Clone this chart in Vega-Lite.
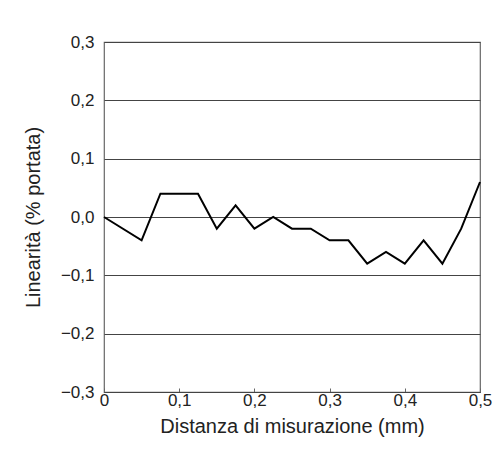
{
  "$schema": "https://vega.github.io/schema/vega-lite/v6.json",
  "autosize": {"type": "none"},
  "padding": {"left": 104, "top": 42, "right": 23, "bottom": 62},
  "width": 376,
  "height": 350,
  "background": "white",
  "config": {
    "font": "Liberation Sans",
    "view": {"stroke": "#666", "strokeWidth": 1.2}
  },
  "data": {
    "values": [
      {"d": 0, "lin": 0},
      {"d": 0.05, "lin": -0.04},
      {"d": 0.075, "lin": 0.04},
      {"d": 0.1, "lin": 0.04},
      {"d": 0.125, "lin": 0.04},
      {"d": 0.15, "lin": -0.02},
      {"d": 0.175, "lin": 0.02},
      {"d": 0.2, "lin": -0.02},
      {"d": 0.225, "lin": 0},
      {"d": 0.25, "lin": -0.02},
      {"d": 0.275, "lin": -0.02},
      {"d": 0.3, "lin": -0.04},
      {"d": 0.325, "lin": -0.04},
      {"d": 0.35, "lin": -0.08},
      {"d": 0.375, "lin": -0.06},
      {"d": 0.4, "lin": -0.08},
      {"d": 0.425, "lin": -0.04},
      {"d": 0.45, "lin": -0.08},
      {"d": 0.475, "lin": -0.02},
      {"d": 0.5, "lin": 0.06}
    ]
  },
  "mark": {"type": "line", "color": "black", "strokeWidth": 2, "strokeJoin": "miter"},
  "encoding": {
    "x": {
      "field": "d",
      "type": "quantitative",
      "scale": {"domain": [0, 0.5], "nice": false, "zero": false},
      "axis": {
        "title": "Distanza di misurazione (mm)",
        "titleFont": "Liberation Sans",
        "titleFontSize": 20,
        "titleFontWeight": "normal",
        "titleColor": "#222",
        "titlePadding": 8,
        "values": [0, 0.1, 0.2, 0.3, 0.4, 0.5],
        "labelExpr": "replace(format(datum.value, '.1~f'), '.', ',')",
        "labelFontSize": 17,
        "labelColor": "#222",
        "labelPadding": 4,
        "labelFlush": false,
        "grid": false,
        "domain": true,
        "domainColor": "#444",
        "ticks": true,
        "tickSize": -4,
        "tickColor": "#666",
        "tickWidth": 1
      }
    },
    "y": {
      "field": "lin",
      "type": "quantitative",
      "scale": {"domain": [-0.3, 0.3], "nice": false},
      "axis": {
        "title": "Linearità (% portata)",
        "titleFont": "Liberation Sans",
        "titleFontSize": 20,
        "titleFontWeight": "normal",
        "titleColor": "#222",
        "titlePadding": 17,
        "values": [-0.3, -0.2, -0.1, 0, 0.1, 0.2, 0.3],
        "labelExpr": "replace(format(datum.value, '.1f'), '.', ',')",
        "labelFontSize": 17,
        "labelColor": "#222",
        "labelPadding": 10,
        "labelFlush": false,
        "grid": true,
        "gridColor": "#444",
        "gridWidth": 1.2,
        "gridOpacity": 1,
        "domain": false,
        "ticks": false,
        "tickSize": 0
      }
    }
  }
}
